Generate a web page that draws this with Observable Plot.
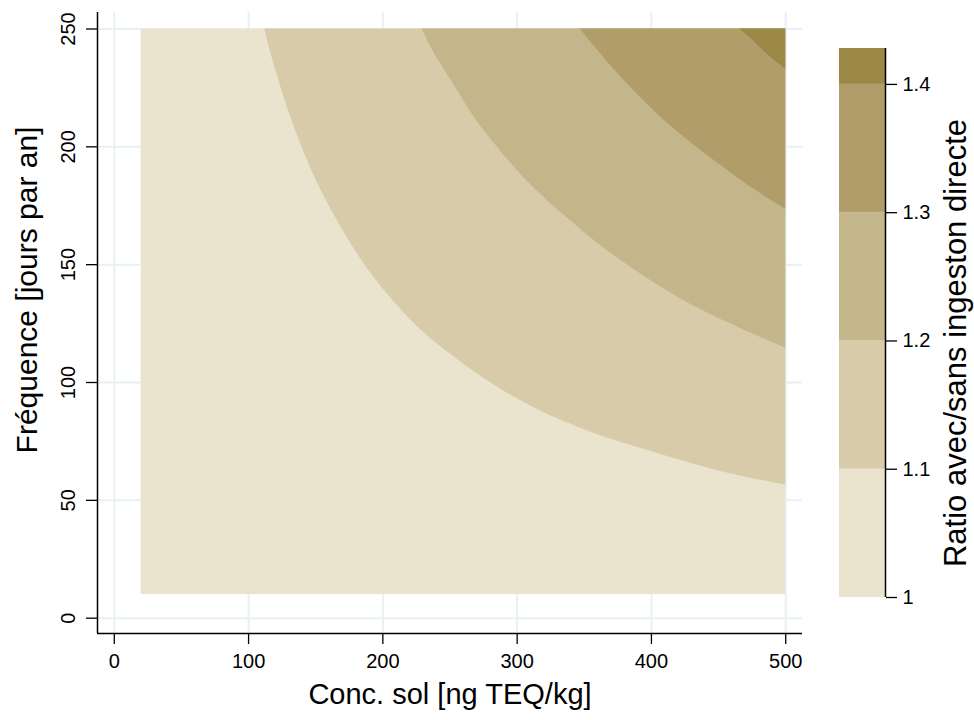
<!DOCTYPE html>
<html>
<head>
<meta charset="utf-8">
<script src="https://cdn.jsdelivr.net/npm/d3@7"></script>
<script src="https://cdn.jsdelivr.net/npm/@observablehq/plot@0.6"></script>
<style>
  body { margin: 0; background: #fff; }
  #chart { position: relative; width: 974px; height: 720px; background: #fff; }
  #chart svg { position: absolute; top: 0; }
</style>
</head>
<body>
<div id="chart"></div>
<script>
// ---- data ----
const concTicks = [0, 100, 200, 300, 400, 500];
const freqTicks = [0, 50, 100, 150, 200, 250];
const concRange = [20, 500];   // extent of the computed grid (ng TEQ/kg)
const freqRange = [10, 250];   // extent of the computed grid (jours par an)

// iso-lines (contour boundaries)
const iso11Conc = [112, 116, 120, 127, 135, 147, 160, 175, 189, 205, 220, 240, 255, 280, 310, 350, 404, 450, 500];
const iso11Freq = [250, 241, 233, 220, 207, 190, 175, 160, 148, 136.5, 127, 116.5, 110, 100, 90, 80, 70, 62.5, 56.5];
const iso12Conc = [229, 240, 250, 270, 285, 300, 320, 340, 360, 387, 410, 440, 470, 500];
const iso12Freq = [250, 238, 229, 211, 200, 190, 178.5, 168.5, 159, 148, 139.5, 130, 122, 114.5];
const iso13Conc = [347, 360, 375, 390, 411, 430, 450, 475, 500];
const iso13Freq = [250, 241, 231, 222, 210.5, 201.5, 192.8, 182.5, 173.5];
const iso14Conc = [466, 475, 483, 491, 500];
const iso14Freq = [250, 245.5, 241, 237, 233];

const levelBreaks = [1, 1.1, 1.2, 1.3, 1.4, 1.428];
const levelTicks = [1, 1.1, 1.2, 1.3, 1.4];
const bandColors = ["#eae4cf", "#d7cbaa", "#c3b68b", "#b09d69", "#9b8746"];

const xTitle = "Conc. sol [ng TEQ/kg]";
const yTitle = "Fréquence [jours par an]";
const legendTitle = "Ratio avec/sans ingeston directe";

// ---- build ----
const font = "'Liberation Sans', Arial, Helvetica, sans-serif";
const gridColor = "#e8f0f3";
const isoLines = [
  [iso11Conc, iso11Freq],
  [iso12Conc, iso12Freq],
  [iso13Conc, iso13Freq],
  [iso14Conc, iso14Freq]
].map(([xs, ys]) => xs.map((x, i) => ({x, y: ys[i]})));

const xDomain = [-12.5, 512.5];
const yDomain = [-6.5, 257];

const areaMarks = isoLines.map((rows, i) =>
  Plot.areaY(rows, {
    x: "x", y1: "y", y2: () => freqRange[1],
    fill: bandColors[i + 1], curve: "monotone-x"
  })
);

const main = Plot.plot({
  width: 974, height: 720,
  marginLeft: 97, marginRight: 172, marginTop: 12, marginBottom: 87,
  x: {domain: xDomain},
  y: {domain: yDomain},
  style: {fontFamily: font, background: "transparent", color: "black"},
  marks: [
    Plot.gridX(concTicks, {stroke: gridColor, strokeOpacity: 1, strokeWidth: 2}),
    Plot.gridY(freqTicks, {stroke: gridColor, strokeOpacity: 1, strokeWidth: 2}),
    Plot.rect([0], {
      x1: () => concRange[0], x2: () => concRange[1],
      y1: () => freqRange[0], y2: () => freqRange[1],
      fill: bandColors[0]
    }),
    ...areaMarks,
    Plot.axisX(concTicks, {tickSize: 11, tickPadding: 9, fontSize: 20, label: null, strokeWidth: 1.3}),
    Plot.ruleY([yDomain[0]], {stroke: "black", strokeWidth: 1.5}),
    Plot.axisY(freqTicks, {tickSize: 11, tickFormat: () => "", label: null, strokeWidth: 1.3}),
    Plot.text(freqTicks, {y: d => d, text: d => String(d), frameAnchor: "left", textAnchor: "middle", dx: -29, rotate: -90, fontSize: 20}),
    Plot.ruleX([xDomain[0]], {stroke: "black", strokeWidth: 1.5}),
    Plot.text([xTitle], {text: d => d, frameAnchor: "bottom", dy: 70, fontSize: 29}),
    Plot.text([yTitle], {text: d => d, frameAnchor: "left", textAnchor: "middle", dx: -70, dy: -33, rotate: -90, fontSize: 30})
  ]
});
main.style.left = "0px";

const bandRows = bandColors.map((c, i) => ({lo: levelBreaks[i], hi: levelBreaks[i + 1], fill: c}));
const zMax = levelBreaks[levelBreaks.length - 1];

const legend = Plot.plot({
  width: 154, height: 720,
  marginLeft: 19, marginRight: 89, marginTop: 48, marginBottom: 123,
  x: {domain: [0, 1], axis: null},
  y: {domain: [levelBreaks[0], zMax], axis: null},
  color: {type: "identity"},
  style: {fontFamily: font, background: "transparent", color: "black"},
  marks: [
    Plot.rect(bandRows, {x1: () => 0, x2: () => 1, y1: "lo", y2: "hi", fill: "fill"}),
    Plot.ruleX([1], {x: d => d, y1: () => levelBreaks[0], y2: () => zMax, stroke: "black", strokeWidth: 1.5}),
    Plot.axisY(levelTicks, {anchor: "right", tickSize: 11, tickPadding: 6, fontSize: 20, label: null, tickFormat: d => String(d), strokeWidth: 1.3}),
    Plot.text([legendTitle], {text: d => d, frameAnchor: "right", textAnchor: "middle", dx: 71, dy: 20, rotate: -90, fontSize: 31})
  ]
});
legend.style.left = "820px";

const chart = document.getElementById("chart");
chart.appendChild(main);
chart.appendChild(legend);
</script>
</body>
</html>
